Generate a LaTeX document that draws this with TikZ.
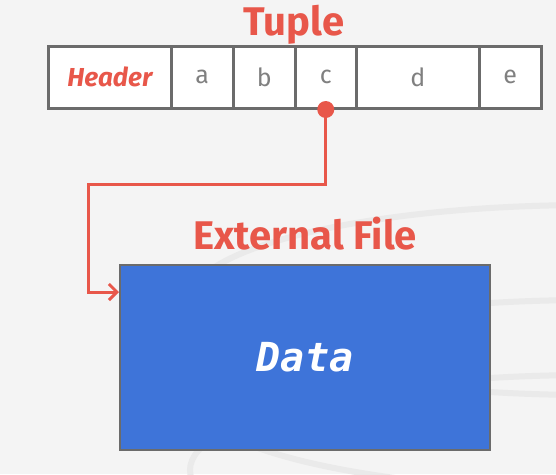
\documentclass[tikz,border=0pt]{standalone}
\usepackage{fontspec}
\setmainfont{Fira Sans}
\newfontfamily\datafont{DejaVu Sans Mono}
\usetikzlibrary{arrows.meta,calc}
\definecolor{tred}{HTML}{E8574A}
\definecolor{tgray}{HTML}{6B6B6B}
\definecolor{lgray}{HTML}{808080}
\definecolor{dblue}{HTML}{3E74D9}
\definecolor{bg}{HTML}{F4F4F4}
\definecolor{wm}{HTML}{EAEAEA}
\begin{document}
\begin{tikzpicture}[x=1pt,y=-1pt,
  cell/.style={draw=tgray, line width=2.5pt, fill=white, minimum height=62pt,
    inner sep=0pt, anchor=north west, text=lgray, font=\fontsize{25}{25}\selectfont},
  title/.style={text=tred, anchor=base, font=\bfseries\fontsize{40}{40}\selectfont},
  conn/.style={draw=tred, line width=3pt},
  datbox/.style={draw=tgray, line width=2pt, fill=dblue, minimum width=370pt,
    minimum height=185pt, anchor=north west, inner sep=0pt, text=white,
    font=\datafont\bfseries\itshape\fontsize{40}{40}\selectfont}]
\fill[bg] (0,0) rectangle (556,474);
\useasboundingbox (0,0) rectangle (556,474);
% faint watermark
\begin{scope}
\clip (0,0) rectangle (556,474);
\draw[wm, line width=6pt] (590,300) ellipse [x radius=400, y radius=95];
\draw[wm, line width=6pt] (590,395) ellipse [x radius=400, y radius=95];
\draw[wm, line width=6pt] (590,470) ellipse [x radius=400, y radius=95];
\end{scope}
% tuple
\node[title] (tuple) at (294,35) {Tuple};
\node[cell, minimum width=123pt, text=tred, font=\bfseries\itshape\fontsize{26}{26}\selectfont] (h) at (47,45) {Header};
\node[cell, minimum width=62pt] (a) at (170,45) {a};
\node[cell, minimum width=62pt] (b) at (232,45) {b};
\node[cell, minimum width=61pt] (c) at (294,45) {c};
\node[cell, minimum width=123pt] (d) at (355,45) {d};
\node[cell, minimum width=62pt] (e) at (478,45) {e};
% external file
\node[title] (ext) at (305,249) {External File};
\node[datbox] (box) at (119,264) {Data};
% connector
\coordinate (k1) at (88,184);
\coordinate (k2) at ($(box.north west)+(0,28)$);
\draw[conn, -{Straight Barb[length=8pt,width=16pt,line width=3pt]}] (c.south) |- (k1) |- (k2);
\fill[tred] (c.south) circle (8.5);
\end{tikzpicture}
\end{document}
